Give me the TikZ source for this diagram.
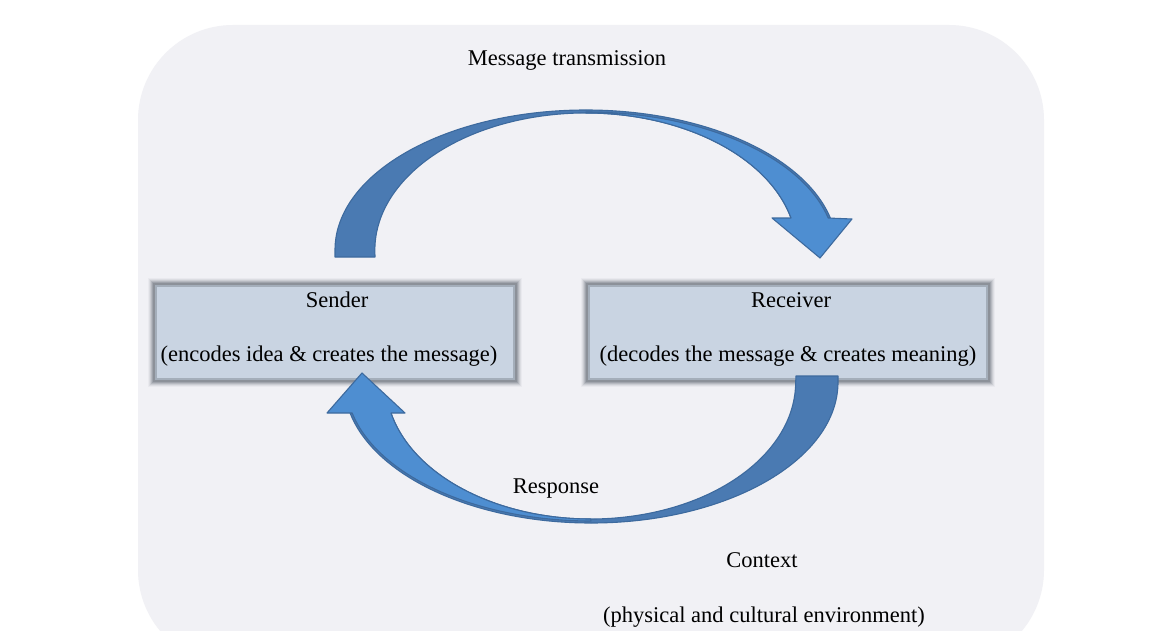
\documentclass[tikz,border=0pt]{standalone}
\usepackage{fontspec}
\setmainfont{Liberation Serif}
\definecolor{panelbg}{HTML}{F1F1F5}
\definecolor{boxfill}{HTML}{C9D4E2}
\definecolor{boxedge}{HTML}{6E757E}
\definecolor{arrdark}{HTML}{4A7AB2}
\definecolor{arrlight}{HTML}{4E8ED1}
\definecolor{arrline}{HTML}{3D6A9E}
\begin{document}
\begin{tikzpicture}[x=1pt,y=-1pt,
  txt/.style={font=\fontsize{22.5}{27}\selectfont, inner sep=0pt, text=black},
  % soft, blurred frame built from stacked translucent strokes
  boxnode/.style={rectangle, fill=boxfill, minimum height=95pt, inner sep=0pt,
    preaction={draw=boxedge, line width=14pt, opacity=0.06},
    preaction={draw=boxedge, line width=12pt, opacity=0.10},
    preaction={draw=boxedge, line width=10pt, opacity=0.15},
    preaction={draw=boxedge, line width=8pt, opacity=0.22},
    preaction={draw=boxedge, line width=6pt, opacity=0.30},
    draw=boxedge, line width=4pt, draw opacity=0.40},
  bandback/.style={fill=arrdark, draw=arrline, line width=1.1pt, line join=round},
  bandfront/.style={fill=arrlight, draw=arrline, line width=1.1pt, line join=round}]
\useasboundingbox (0,0) rectangle (1164,631);
\fill[white] (0,0) rectangle (1164,631);

% context panel
\fill[panelbg, rounded corners=95pt] (138,25) rectangle (1044,665);

% sender and receiver boxes
\node[boxnode, minimum width=360pt] (sender) at (335,332.5) {};
\node[boxnode, minimum width=400pt] (receiver) at (788,332.5) {};
\node[txt] (sendertitle) at (337,300) {Sender};
\node[txt] (senderdesc) at (329,356) {(encodes idea \& creates the message)};
\node[txt] (receivertitle) at (791,300) {Receiver};
\node[txt] (receiverdesc) at (788,356) {(decodes the message \& creates meaning)};

% message transmission arrow (sender -> receiver, over the top)
\path[bandback] (335,257) -- (335,250)
  arc[start angle=180, end angle=346.8, x radius=251, y radius=140]
  -- (791,218)
  arc[start angle=346.5, end angle=180, x radius=211, y radius=137]
  -- (375,257) -- cycle;
\path[bandfront] (586,112)
  arc[start angle=270, end angle=346.6, x radius=249, y radius=138]
  -- (852,219) -- (820,258) -- (772,218) -- (791,218)
  arc[start angle=346.5, end angle=270, x radius=211, y radius=137]
  -- cycle;

% response arrow (receiver -> sender, underneath)
\path[bandback] (838,376) -- (838,382)
  arc[start angle=0, end angle=167.3, x radius=247, y radius=141]
  -- (391,413)
  arc[start angle=166.92, end angle=0, x radius=205, y radius=137]
  -- (796,376) -- cycle;
\path[bandfront] (591,521)
  arc[start angle=90, end angle=167.1, x radius=245, y radius=139]
  -- (327,413) -- (362,373) -- (405,413) -- (391,413)
  arc[start angle=166.92, end angle=90, x radius=205, y radius=137]
  -- cycle;

% labels
\node[txt] (msg) at (567,60) {Message transmission};
\node[txt] (resp) at (556,489) {Response};
\node[txt] (ctx) at (762,560) {Context};
\node[txt] (ctxdesc) at (764,617) {(physical and cultural environment)};
\end{tikzpicture}
\end{document}
